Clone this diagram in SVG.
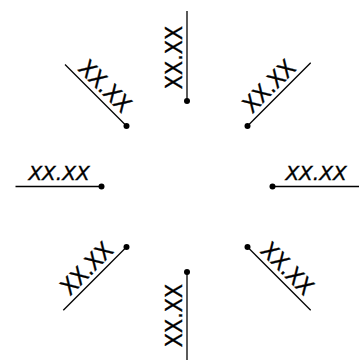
<svg xmlns="http://www.w3.org/2000/svg" width="359" height="360" viewBox="0 0 359 360">
<style>
.ln{stroke:#000;stroke-width:1.3;fill:none}
.dot{fill:#000}
.lb{font-family:"DejaVu Sans",sans-serif;font-size:23px;text-anchor:middle;fill:#000;stroke:#000;stroke-width:0.35}
.hz{font-style:italic;font-size:20px}
</style>
<rect width="359" height="360" fill="#fff"/>
<g id="connectors">
<line class="ln" x1="272.5" y1="186.5" x2="359.5" y2="186.5"/>
<line class="ln" x1="247.5" y1="126" x2="310.7" y2="62.8"/>
<line class="ln" x1="187" y1="101" x2="187" y2="11"/>
<line class="ln" x1="126.5" y1="126" x2="65" y2="64.5"/>
<line class="ln" x1="101.5" y1="186.5" x2="15.5" y2="186.5"/>
<line class="ln" x1="126.5" y1="247" x2="63.3" y2="310.2"/>
<line class="ln" x1="187" y1="272" x2="187" y2="361"/>
<line class="ln" x1="247.5" y1="247" x2="310.7" y2="310.2"/>
</g>
<g id="n-right"><circle class="dot" cx="272.5" cy="186.5" r="3"/><text class="lb hz" transform="translate(316,186.5)" x="0" y="-7">XX.XX</text></g>
<g id="n-topright"><circle class="dot" cx="247.5" cy="126" r="3"/><text class="lb" transform="translate(278.2,95.3) rotate(-45) scale(0.9,1)" x="0" y="-5">XX.XX</text></g>
<g id="n-top"><circle class="dot" cx="187" cy="101" r="3"/><text class="lb" transform="translate(187,57.5) rotate(-90) scale(0.9,1)" x="0" y="-5">XX.XX</text></g>
<g id="n-topleft"><circle class="dot" cx="126.5" cy="126" r="3"/><text class="lb" transform="translate(95.8,95.3) rotate(45) scale(0.9,1)" x="0" y="-5">XX.XX</text></g>
<g id="n-left"><circle class="dot" cx="101.5" cy="186.5" r="3"/><text class="lb hz" transform="translate(59,186.5)" x="0" y="-7">XX.XX</text></g>
<g id="n-bottomleft"><circle class="dot" cx="126.5" cy="247" r="3"/><text class="lb" transform="translate(95.8,277.7) rotate(-45) scale(0.9,1)" x="0" y="-5">XX.XX</text></g>
<g id="n-bottom"><circle class="dot" cx="187" cy="272" r="3"/><text class="lb" transform="translate(187,315.5) rotate(-90) scale(0.9,1)" x="0" y="-5">XX.XX</text></g>
<g id="n-bottomright"><circle class="dot" cx="247.5" cy="247" r="3"/><text class="lb" transform="translate(278.2,277.7) rotate(45) scale(0.9,1)" x="0" y="-5">XX.XX</text></g>
</svg>
